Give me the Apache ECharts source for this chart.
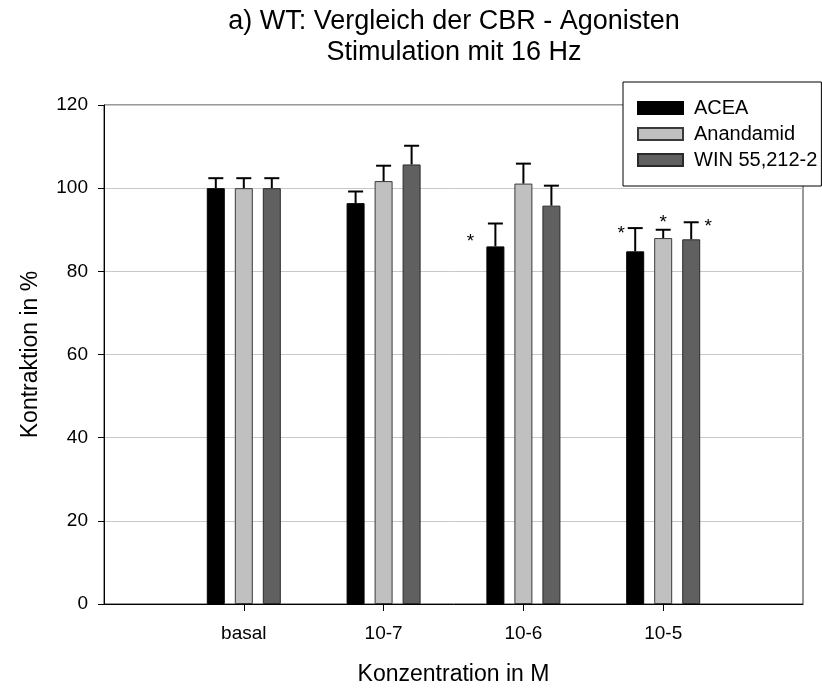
<!DOCTYPE html>
<html>
<head>
<meta charset="utf-8">
<script src="https://cdn.jsdelivr.net/npm/echarts@6/dist/echarts.min.js"></script>
<style>
  html, body { margin: 0; padding: 0; background: #fff; }
  #chart { width: 822px; height: 691px; }
</style>
</head>
<body>
<div id="chart"></div>
<script>
// Concentration groups and agonists
const categories = ['basal', '10-7', '10-6', '10-5'];
const seriesNames = ['ACEA', 'Anandamid', 'WIN 55,212-2'];

// Mean contraction (% of basal) and SEM per group
const acea = [100.0, 96.4, 86.0, 84.8];
const aceaErr = [2.4, 2.8, 5.5, 5.6];
const anandamid = [100.0, 101.7, 101.1, 88.0];
const anandamidErr = [2.4, 3.7, 4.8, 2.0];
const win = [100.0, 105.7, 95.8, 87.7];
const winErr = [2.4, 4.5, 4.8, 4.1];

// Significance flags (1 = marked with *)
const aceaSig = [0, 0, 1, 1];
const anandamidSig = [0, 0, 0, 1];
const winSig = [0, 0, 0, 1];

// Y axis ticks
const yMin = 0, yMax = 120, yStep = 20;

// ---- styling ----
const FONT = 'Liberation Sans, Arial, Helvetica, sans-serif';
const BAR_W = 18;
const BAR_GAP = 10;
const CAP = 15;
const fills = ['#000000', '#c0c0c0', '#606060'];
const borders = ['#000000', '#3a3a3a', '#2a2a2a'];
// pixel offset of the "*" relative to the error-bar cap, per series / group
const starOffsets = [
  [[0, 0], [0, 0], [-25, 16], [-14, 3]],
  [[0, 0], [0, 0], [0, 0], [0, -9]],
  [[0, 0], [0, 0], [0, 0], [17, 2]]
];

// Category axis padded with an empty slot on each side
const axisCats = [''].concat(categories, ['']);

function pad(arr) { return [null].concat(arr, [null]); }

function barSeries(idx, values) {
  return {
    type: 'bar',
    name: seriesNames[idx],
    data: pad(values),
    barWidth: BAR_W,
    barGap: (BAR_GAP / BAR_W * 100).toFixed(1) + '%',
    itemStyle: { color: fills[idx], borderColor: borders[idx], borderWidth: 1 },
    emphasis: { disabled: true },
    z: 3
  };
}

function errorSeries(idx, means, errs, sig) {
  const data = means.map((m, i) => [i + 1, m, errs[i], sig[i]]);
  return {
    type: 'custom',
    name: seriesNames[idx] + ' SEM',
    data: data,
    encode: { x: 0, y: 1 },
    silent: true,
    z: 5,
    renderItem: function (params, api) {
      const cx = api.value(0);
      const m = api.value(1);
      const e = api.value(2);
      const s = api.value(3);
      const base = api.coord([cx, m]);
      const top = api.coord([cx, m + e]);
      const x = base[0] + (idx - 1) * (BAR_W + BAR_GAP);
      const children = [
        { type: 'line', shape: { x1: x, y1: base[1], x2: x, y2: top[1] },
          style: { stroke: '#000', lineWidth: 2 } },
        { type: 'line', shape: { x1: x - CAP / 2, y1: top[1], x2: x + CAP / 2, y2: top[1] },
          style: { stroke: '#000', lineWidth: 2 } }
      ];
      if (s) {
        const off = starOffsets[idx][cx - 1];
        children.push({
          type: 'text',
          x: x + off[0],
          y: top[1] + off[1] - 7,
          style: { text: '*', fontSize: 19, fontFamily: FONT, fill: '#000',
                   align: 'center', verticalAlign: 'top' }
        });
      }
      return { type: 'group', children: children };
    }
  };
}

const chart = echarts.init(document.getElementById('chart'), null, { renderer: 'canvas' });

chart.setOption({
  backgroundColor: '#ffffff',
  animation: false,
  textStyle: { fontFamily: FONT, color: '#000' },
  title: {
    text: 'a) WT: Vergleich der CBR - Agonisten\nStimulation mit 16 Hz',
    left: 454,
    top: 6,
    padding: 0,
    textAlign: 'center',
    textStyle: { fontSize: 27, fontWeight: 'normal', color: '#000', fontFamily: FONT, lineHeight: 31 }
  },
  legend: {
    data: seriesNames,
    orient: 'vertical',
    left: 623,
    top: 82,
    padding: [16, 4, 16, 14],
    itemGap: 6,
    itemWidth: 45,
    itemHeight: 12,
    icon: 'rect',
    selectedMode: false,
    backgroundColor: '#ffffff',
    borderColor: '#000',
    borderWidth: 1,
    borderRadius: 0,
    textStyle: { fontSize: 20, color: '#000', fontFamily: FONT, padding: [0, 0, 0, 6] },
    z: 10
  },
  grid: {
    left: 104,
    right: 19,
    top: 105,
    bottom: 83,
    show: true,
    borderColor: '#333',
    borderWidth: 1,
    backgroundColor: 'transparent'
  },
  xAxis: {
    type: 'category',
    data: axisCats,
    boundaryGap: false,
    axisLine: { show: true, lineStyle: { color: '#000', width: 1 } },
    axisTick: {
      show: true, length: 7, inside: false,
      interval: function (i) { return i > 0 && i < axisCats.length - 1; },
      lineStyle: { color: '#000' }
    },
    axisLabel: { interval: 0, fontSize: 19, color: '#000', margin: 20, fontFamily: FONT },
    splitLine: { show: false },
    name: 'Konzentration in M',
    nameLocation: 'middle',
    nameGap: 59,
    nameTextStyle: { fontSize: 23, color: '#000', fontFamily: FONT }
  },
  yAxis: {
    type: 'value',
    min: yMin,
    max: yMax,
    interval: yStep,
    axisLine: { show: true, lineStyle: { color: '#000', width: 1 } },
    axisTick: { show: true, length: 6, inside: false, lineStyle: { color: '#000' } },
    axisLabel: { fontSize: 19, color: '#000', margin: 16, fontFamily: FONT },
    splitLine: { show: true, lineStyle: { color: '#c8c8c8', width: 1 } },
    name: 'Kontraktion in %',
    nameLocation: 'middle',
    nameGap: 62,
    nameTextStyle: { fontSize: 23, color: '#000', fontFamily: FONT }
  },
  series: [
    barSeries(0, acea),
    barSeries(1, anandamid),
    barSeries(2, win),
    errorSeries(0, acea, aceaErr, aceaSig),
    errorSeries(1, anandamid, anandamidErr, anandamidSig),
    errorSeries(2, win, winErr, winSig)
  ]
});
</script>
</body>
</html>
